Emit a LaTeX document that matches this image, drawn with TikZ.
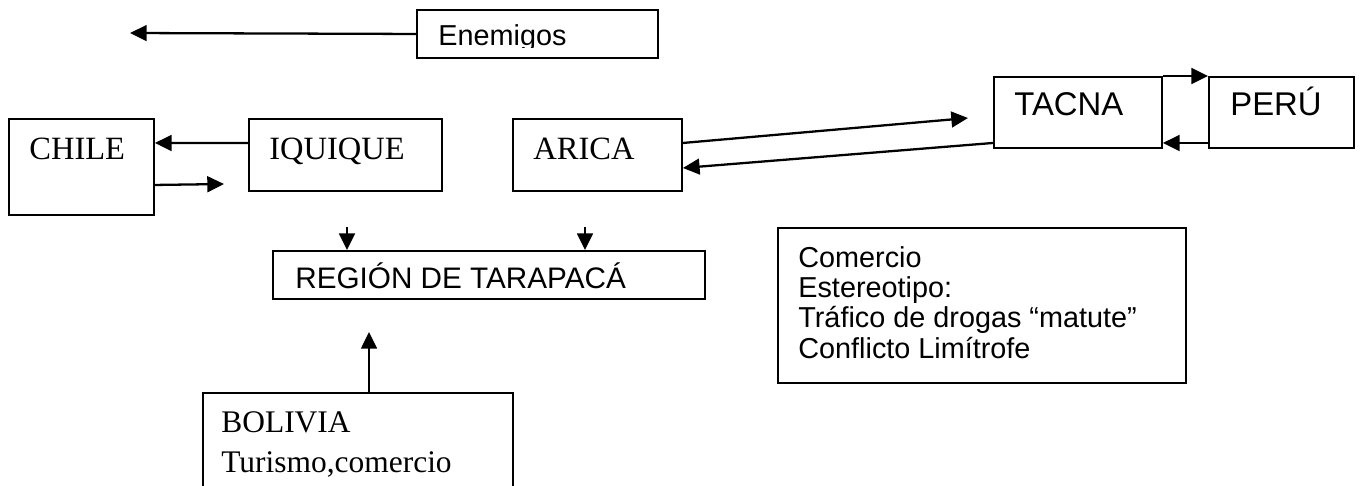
\documentclass[tikz,border=0pt]{standalone}
\usepackage{fontspec}
\setmainfont{Liberation Serif}
\setsansfont{Liberation Sans}
\usetikzlibrary{arrows.meta}
\tikzset{box/.style={draw,line width=1.1pt,anchor=north west,inner sep=0pt}}
\tikzset{arr/.style={line width=1.3pt,-{Triangle[length=9.5pt,width=9pt]}}}
\tikzset{serif/.style={anchor=base west,inner sep=0pt,font=\fontsize{18.5}{20}\selectfont}}
\tikzset{sans/.style={anchor=base west,inner sep=0pt,font=\sffamily\fontsize{16.4}{18}\selectfont}}
\tikzset{bigsans/.style={sans,font=\sffamily\fontsize{18.7}{20}\selectfont}}

\begin{document}
\begin{tikzpicture}[x=0.02cm,y=-0.02cm]
  \clip (0,0) rectangle (1361,485);
  \node[box,minimum width=4.82cm,minimum height=0.96cm] (enemigos) at (416,9) {};
  \node[box,minimum width=2.9cm,minimum height=1.92cm] (chile) at (8,118) {};
  \node[box,minimum width=3.86cm,minimum height=1.44cm] (iquique) at (248,118) {};
  \node[box,minimum width=3.38cm,minimum height=1.44cm] (arica) at (512,118) {};
  \node[box,minimum width=3.36cm,minimum height=1.42cm] (tacna) at (993,76) {};
  \node[box,minimum width=2.9cm,minimum height=1.42cm] (peru) at (1208,76) {};
  \node[box,minimum width=8.64cm,minimum height=0.96cm] (region) at (272,250) {};
  \node[box,minimum width=8.16cm,minimum height=3.1cm] (comercio) at (777,227) {};
  \node[box,minimum width=6.2cm,minimum height=2.4cm] (bolivia) at (202,392) {};

  \begin{scope}
    \clip (416,9) rectangle (657,47);
    \node[sans] (enemigos-t) at (438,45) {Enemigos};
  \end{scope}
  \node[serif] (chile-t) at (29,159) {CHILE};
  \node[serif] (iquique-t) at (269,159) {IQUIQUE};
  \node[serif] (arica-t) at (533,159) {ARICA};
  \node[bigsans] (tacna-t) at (1014,115) {TACNA};
  \node[bigsans] (peru-t) at (1230,115) {PERÚ};
  \node[sans,font=\sffamily\fontsize{16.9}{18}\selectfont] (region-t) at (295,288) {REGIÓN DE TARAPACÁ};
  \node[serif,font=\fontsize{17.9}{20}\selectfont] (bolivia-t) at (221,432) {BOLIVIA};
  \node[serif,font=\fontsize{17.9}{20}\selectfont] (bolivia-t2) at (221,472) {Turismo,comercio};
  \node[sans] (comercio-t1) at (798,267) {Comercio};
  \node[sans] (comercio-t2) at (798,297) {Estereotipo:};
  \node[sans] (comercio-t3) at (798,327) {Tráfico de drogas “matute”};
  \node[sans] (comercio-t4) at (798,358) {Conflicto Limítrofe};

  \coordinate (enemigos-end) at (130,33);
  \coordinate (chile-end) at (224,184);
  \coordinate (tacna-end) at (968,118);
  \coordinate (iquique-down) at (347,227);
  \coordinate (arica-down) at (585,227);
  \coordinate (bolivia-end) at (369,332);

  \draw[arr] (enemigos.west) -- (enemigos-end);
  \draw[arr] ([yshift=.24cm]iquique.west) -- ([yshift=.48cm]chile.east);
  \draw[arr] ([yshift=-.36cm]chile.east) -- (chile-end);
  \draw[arr] ([yshift=.24cm]arica.east) -- (tacna-end);
  \draw[arr] ([yshift=-.61cm]tacna.west) -- ([yshift=-.26cm]arica.east);
  \draw[arr] (tacna.north east) -- (peru.north west);
  \draw[arr] ([yshift=-.61cm]peru.west) -- ([yshift=-.61cm]tacna.east);
  \draw[arr] (iquique-down) -- (iquique-down |- region.north);
  \draw[arr] (arica-down) -- (arica-down |- region.north);
  \draw[arr] (bolivia.north -| bolivia-end) -- (bolivia-end);
\end{tikzpicture}
\end{document}
